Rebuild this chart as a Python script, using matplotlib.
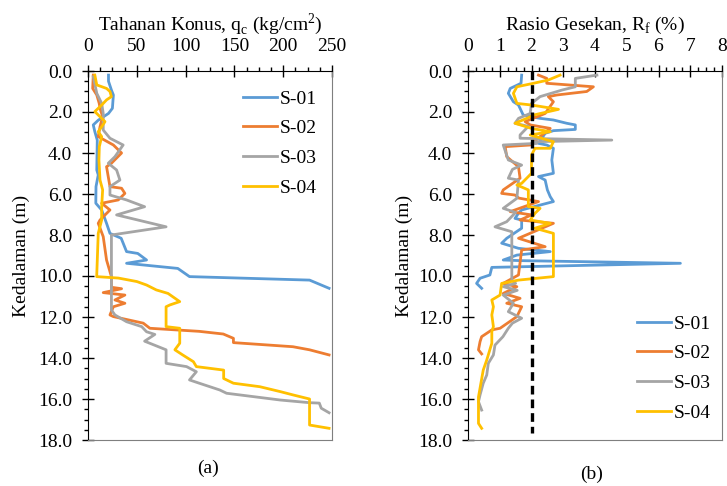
import numpy as np
import matplotlib
matplotlib.use('Agg')
import matplotlib.pyplot as plt
from matplotlib.ticker import MultipleLocator

plt.rcParams['font.family'] = ['Liberation Serif', 'DejaVu Serif']
plt.rcParams['mathtext.fontset'] = 'custom'
plt.rcParams['mathtext.rm'] = 'Liberation Serif'

labels = ['S-01', 'S-02', 'S-03', 'S-04']
colors = ['#5B9BD5', '#ED7D31', '#A5A5A5', '#FFC000']

# (a) cone resistance qc (kg/cm2) vs depth (m)
qc_d1 = [0.2, 0.5, 0.93, 1.17, 1.82, 2.07, 2.4, 2.63, 2.96, 3.37, 4.83, 5.07, 5.64, 6.45, 6.78,
         7.43, 7.92, 8.16, 8.81, 8.9, 9.22, 9.38, 9.63, 10.03, 10.2, 10.6]
qc_v1 = [21, 21, 24, 26, 25, 21, 10.5, 5.4, 7, 9.5, 9, 10.5, 8.2, 8, 14,
         19, 22.5, 34, 39.5, 51, 60, 39.5, 92, 104, 227, 247]

qc_d2 = [0.2, 0.85, 1.17, 1.58, 1.82, 2.23, 2.72, 3.2, 3.61, 4.0, 4.5, 4.67, 5.64, 5.72, 5.97,
         6.29, 6.45, 6.78, 7.27, 7.43, 8.08, 9.22, 10.03, 10.55, 10.62, 10.81, 10.93, 11.17,
         11.33, 11.5, 11.9, 11.98, 12.3, 12.55, 12.7, 12.83, 13.04, 13.25, 13.45, 13.6, 13.85]
qc_v2 = [5.4, 4.8, 9, 11.5, 12.3, 15, 12.3, 10.5, 26, 34.4, 24, 19, 22.5, 34.4, 37.8,
         31, 14, 22.5, 12.3, 10.5, 15.6, 19, 24, 24, 34.4, 15.6, 37.8, 27.6,
         37.8, 26, 22.5, 26, 56.6, 63.4, 114, 138.6, 149, 149, 210, 227, 247]

qc_d3 = [0.28, 1.09, 1.58, 2.07, 2.88, 3.28, 3.61, 4.18, 4.5, 4.83, 5.32, 5.64, 6.05, 6.29,
         6.62, 7.02, 7.6, 8.0, 11.66, 11.9, 12.23, 12.47, 12.72, 12.85, 13.18, 13.6, 14.26,
         14.42, 14.67, 15.07, 15.23, 15.56, 15.72, 16.05, 16.18, 16.2, 16.45, 16.67]
qc_v3 = [5.4, 9, 14, 15.6, 15.6, 22.5, 36, 27.6, 20.8, 29.3, 32.7, 22.5, 22.5, 39.5,
         58, 29.3, 80, 24, 24, 27.6, 39.5, 55, 60, 68.5, 58, 80, 80,
         101, 111, 104, 114, 135, 142, 197, 227, 237, 239, 247]

qc_d4 = [0.2, 0.68, 0.85, 1.0, 1.25, 1.41, 1.66, 1.98, 2.47, 2.72, 2.96, 3.2, 3.69, 4.34,
         5.32, 5.8, 6.62, 7.27, 7.92, 10.03, 10.1, 10.27, 10.44, 10.68, 10.85, 11.25, 11.41,
         11.5, 11.82, 12.47, 12.55, 13.28, 13.6, 13.85, 14.18, 14.42, 14.59, 15.0, 15.23,
         15.4, 15.64, 15.8, 16.0, 17.27, 17.43]
qc_v4 = [7, 9, 19, 22.5, 24, 19, 14, 7, 17.4, 14, 10.5, 14, 11.6, 11.2,
         12.3, 15, 14, 14, 10.5, 8.9, 31, 50, 60, 70, 82, 94, 84,
         80, 80, 80, 94, 94, 89, 97, 108, 111, 139, 139, 149,
         176, 197, 210, 227, 227, 247]

# (b) friction ratio Rf (%) vs depth (m)
rf_d1 = [0.2, 0.6, 0.85, 1.09, 1.5, 1.66, 2.15, 2.31, 2.39, 2.55, 2.63, 2.85, 2.91, 3.04, 3.53,
         3.61, 3.77, 4.34, 4.99, 5.15, 5.32, 5.8, 6.13, 6.37, 6.54, 6.78, 6.94, 7.19, 7.27,
         7.67, 8.16, 8.4, 8.65, 8.81, 8.98, 9.22, 9.25, 9.38, 9.58, 9.95, 10.11, 10.36, 10.6]
rf_v1 = [1.69, 1.67, 1.33, 1.27, 1.43, 1.59, 1.74, 2.27, 2.69, 3.11, 3.38, 3.38, 2.69, 2.43, 2.22,
         2.48, 2.69, 2.64, 2.69, 2.22, 2.43, 2.5, 2.59, 2.69, 2.27, 1.69, 1.59, 1.48, 1.69,
         1.69, 1.22, 1.06, 1.59, 2.59, 1.54, 1.11, 1.64, 6.69, 0.75, 0.69, 0.38, 0.27, 0.43]

rf_d2 = [0.2, 0.36, 0.6, 0.77, 1.0, 1.17, 1.25, 1.5, 2.07, 2.47, 2.63, 2.8, 3.2, 3.61, 3.69,
         4.18, 4.67, 5.23, 5.8, 5.97, 6.05, 6.2, 6.37, 6.86, 7.02, 7.27, 7.43, 8.16, 8.57,
         8.73, 9.95, 10.36, 10.52, 10.85, 11.09, 11.33, 11.5, 11.98, 12.55, 12.63, 12.96,
         13.2, 13.6, 13.8]
rf_v2 = [2.22, 2.48, 2.48, 3.95, 3.74, 2.8, 2.53, 2.69, 2.43, 1.8, 1.96, 2.59, 2.27, 1.96, 1.17,
         1.22, 1.59, 1.64, 1.11, 1.06, 1.48, 1.6, 2.22, 1.33, 2.0, 1.64, 2.69, 1.59, 2.43,
         1.69, 1.59, 1.11, 1.54, 1.11, 1.64, 1.22, 1.69, 1.54, 1.01, 0.75, 0.43,
         0.38, 0.33, 0.43]

rf_d3 = [0.2, 0.36, 0.77, 0.93, 1.25, 1.58, 2.07, 2.31, 2.55, 2.7, 3.12, 3.28, 3.37, 3.45,
         3.53, 3.61, 4.34, 4.59, 4.8, 5.23, 5.32, 6.21, 6.7, 6.9, 7.35, 7.6, 7.84, 10.2, 10.36,
         10.52, 10.7, 10.93, 11.33, 11.74, 12.06, 12.3, 12.55, 12.96, 13.37, 13.85, 14.26,
         14.83, 15.23, 15.8, 16.13, 16.54]
rf_v3 = [4.06, 3.38, 3.38, 2.96, 2.27, 2.0, 1.96, 1.59, 1.48, 1.9, 1.64, 1.64, 4.53, 2.1,
         2.17, 1.11, 1.27, 1.69, 1.4, 1.27, 1.59, 1.54, 1.11, 1.5, 1.22, 0.85, 1.38, 1.38, 1.5,
         1.11, 1.55, 1.11, 1.43, 1.27, 1.69, 1.4, 1.27, 1.1, 0.85, 0.8, 0.64,
         0.59, 0.48, 0.38, 0.33, 0.43]

rf_d4 = [0.2, 0.44, 0.6, 0.77, 1.09, 1.58, 1.66, 1.87, 2.15, 2.31, 2.55, 2.8, 2.96, 3.12, 3.45,
         3.77, 3.77, 4.1, 4.99, 5.48, 5.56, 5.8, 6.62, 6.7, 6.94, 7.27, 7.43, 7.67, 7.92,
         10.03, 10.2, 10.36, 10.93, 11.17, 11.5, 11.9, 12.47, 12.72, 13.28, 14.1, 14.59,
         15.9, 17.19, 17.43]
rf_v4 = [2.9, 2.53, 2.06, 1.54, 1.43, 1.54, 2.0, 2.85, 2.06, 1.85, 1.48, 2.0, 2.59, 1.96, 2.69,
         2.59, 2.11, 2.0, 2.0, 1.69, 1.54, 1.9, 1.9, 2.27, 2.11, 1.96, 2.59, 2.11, 2.69,
         2.69, 1.59, 1.06, 1.01, 0.75, 0.8, 0.75, 0.8, 0.75, 0.75, 0.59, 0.48,
         0.33, 0.33, 0.43]

# Rf = 2 % reference line
ref_rf = [2, 2]
ref_d = [0, 17.65]

FS = 14


def style_axes(ax, xmax, xmajor, xminor):
    """ depth axis downwards, x ticks on top """
    ax.set_ylim(18, 0)
    ax.set_xlim(0, xmax)
    ax.xaxis.tick_top()
    ax.xaxis.set_label_position('top')
    ax.xaxis.set_major_locator(MultipleLocator(xmajor))
    ax.xaxis.set_minor_locator(MultipleLocator(xminor))
    ax.yaxis.set_major_locator(MultipleLocator(2))
    ax.yaxis.set_minor_locator(MultipleLocator(0.5))
    ax.yaxis.set_major_formatter(plt.FormatStrFormatter('%.1f'))
    ax.tick_params(which='major', direction='inout', length=9, width=1, labelsize=FS, pad=7)
    ax.tick_params(which='minor', direction='out', length=3, width=1)
    ax.tick_params(axis='x', which='both', top=True, bottom=False)
    ax.tick_params(axis='y', which='both', left=True, right=False)
    for side in ['left', 'top']:
        ax.spines[side].set_color('black')
    for side in ['right', 'bottom']:
        ax.spines[side].set_color('#7f7f7f')
    ax.set_ylabel('Kedalaman (m)', fontsize=FS)


fig = plt.figure(figsize=(7.27, 4.86), dpi=100)
ax1 = fig.add_axes([88 / 727, 1 - 440 / 486, 244 / 727, 369 / 486])
ax2 = fig.add_axes([468 / 727, 1 - 440 / 486, 254 / 727, 369 / 486])

qc_data = [(qc_v1, qc_d1), (qc_v2, qc_d2), (qc_v3, qc_d3), (qc_v4, qc_d4)]
rf_data = [(rf_v1, rf_d1), (rf_v2, rf_d2), (rf_v3, rf_d3), (rf_v4, rf_d4)]

for (x, y), lab, c in zip(qc_data, labels, colors):
    ax1.plot(x, y, color=c, lw=2, label=lab)
for (x, y), lab, c in zip(rf_data, labels, colors):
    ax2.plot(x, y, color=c, lw=2, label=lab)
ax2.plot(ref_rf, ref_d, color='black', lw=2.4, linestyle=(0, (2.6, 1.5)))

style_axes(ax1, 250, 50, 12.5)
style_axes(ax2, 8, 1, 0.25)
ax2.xaxis.set_major_formatter(plt.FormatStrFormatter('%d'))

ax1.set_xlabel('Tahanan Konus, q$_\\mathregular{c}$ (kg/cm$^\\mathregular{2}$)', fontsize=FS, labelpad=6)
ax2.set_xlabel('Rasio Gesekan, R$_\\mathregular{f}$ (%)', fontsize=FS, labelpad=6)
ax1.yaxis.set_label_coords((30 - 88) / 244, 0.5)
ax2.yaxis.set_label_coords((413 - 468) / 254, 0.5)

leg_kw = dict(frameon=False, fontsize=FS, handlelength=1.75, handletextpad=0.15,
              labelspacing=0.62, borderpad=0, borderaxespad=0)
ax1.legend(loc='upper left', bbox_to_anchor=(243 / 727, 1 - 90 / 486),
           bbox_transform=fig.transFigure, **leg_kw)
ax2.legend(loc='upper left', bbox_to_anchor=(637 / 727, 1 - 315 / 486),
           bbox_transform=fig.transFigure, **leg_kw)

fig.text(208 / 727, 1 - 468 / 486, '(a)', fontsize=FS, ha='center', va='center')
fig.text(592 / 727, 1 - 474 / 486, '(b)', fontsize=FS, ha='center', va='center')

fig.savefig('out.png', dpi=100)
